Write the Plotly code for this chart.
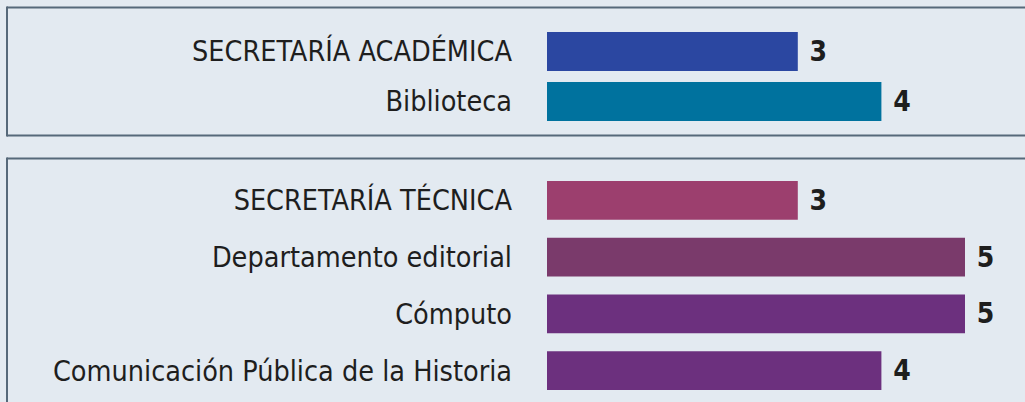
import plotly.graph_objects as go
from plotly.subplots import make_subplots

# Data
top_labels = ["SECRETARÍA ACADÉMICA", "Biblioteca"]
top_values = [3, 4]
top_colors = ["#2B47A1", "#00729E"]

bottom_labels = ["SECRETARÍA TÉCNICA", "Departamento editorial", "Cómputo",
                 "Comunicación Pública de la Historia"]
bottom_values = [3, 5, 5, 4]
bottom_colors = ["#9C3F6E", "#7A3A6B", "#6C307E", "#6C307E"]

W, H = 1025, 402
BG = "#E3EAF1"
FONT = "DejaVu Sans Condensed, sans-serif"
TXT = "#1E1E1E"
BORDER = "#56697A"

fig = make_subplots(rows=2, cols=1)

val_font = dict(family=FONT, size=28, color=TXT, weight="bold")

fig.add_trace(go.Bar(
    y=top_labels, x=top_values, orientation="h",
    marker=dict(color=top_colors, line=dict(width=0)),
    width=0.78,
    texttemplate="\u00a0%{x}", textposition="outside",
    textfont=val_font,
    cliponaxis=False, showlegend=False, hoverinfo="skip"), row=1, col=1)

fig.add_trace(go.Bar(
    y=bottom_labels, x=bottom_values, orientation="h",
    marker=dict(color=bottom_colors, line=dict(width=0)),
    width=0.687,
    texttemplate="\u00a0%{x}", textposition="outside",
    textfont=val_font,
    cliponaxis=False, showlegend=False, hoverinfo="skip"), row=2, col=1)

x_start = 547 / W
xrange = [0, (W - 547) / 83.6]
for ax in ["xaxis", "xaxis2"]:
    fig.layout[ax].update(domain=[x_start, 1], range=xrange, visible=False, fixedrange=True)

yax_common = dict(autorange="reversed", showgrid=False, showline=False, zeroline=False,
                  ticks="", ticklabelstandoff=34, fixedrange=True,
                  tickfont=dict(family=FONT, size=28.5, color=TXT))
fig.layout.yaxis.update(domain=[1 - 126.5 / H, 1 - 26.5 / H], **yax_common)
fig.layout.yaxis2.update(domain=[1 - 399 / H, 1 - 172 / H], **yax_common)

# panel borders (open on the right / bottom like the reference)
def seg(x0, y0, x1, y1):
    fig.add_shape(type="line", xref="paper", yref="paper",
                  x0=x0 / W, x1=x1 / W, y0=1 - y0 / H, y1=1 - y1 / H,
                  line=dict(color=BORDER, width=2), layer="below")

seg(7, 7.5, 1030, 7.5)
seg(7, 135.5, 1030, 135.5)
seg(7, 6.5, 7, 136.5)
seg(7, 158.5, 1030, 158.5)
seg(7, 157.5, 7, 410)

fig.update_layout(width=W, height=H, margin=dict(l=0, r=0, t=0, b=0),
                  paper_bgcolor=BG, plot_bgcolor=BG)

fig.write_html("out.html", config={"displayModeBar": False},
               post_script="document.body.style.margin='0';document.body.style.overflow='hidden';"
                           "document.body.style.background='" + BG + "';")
